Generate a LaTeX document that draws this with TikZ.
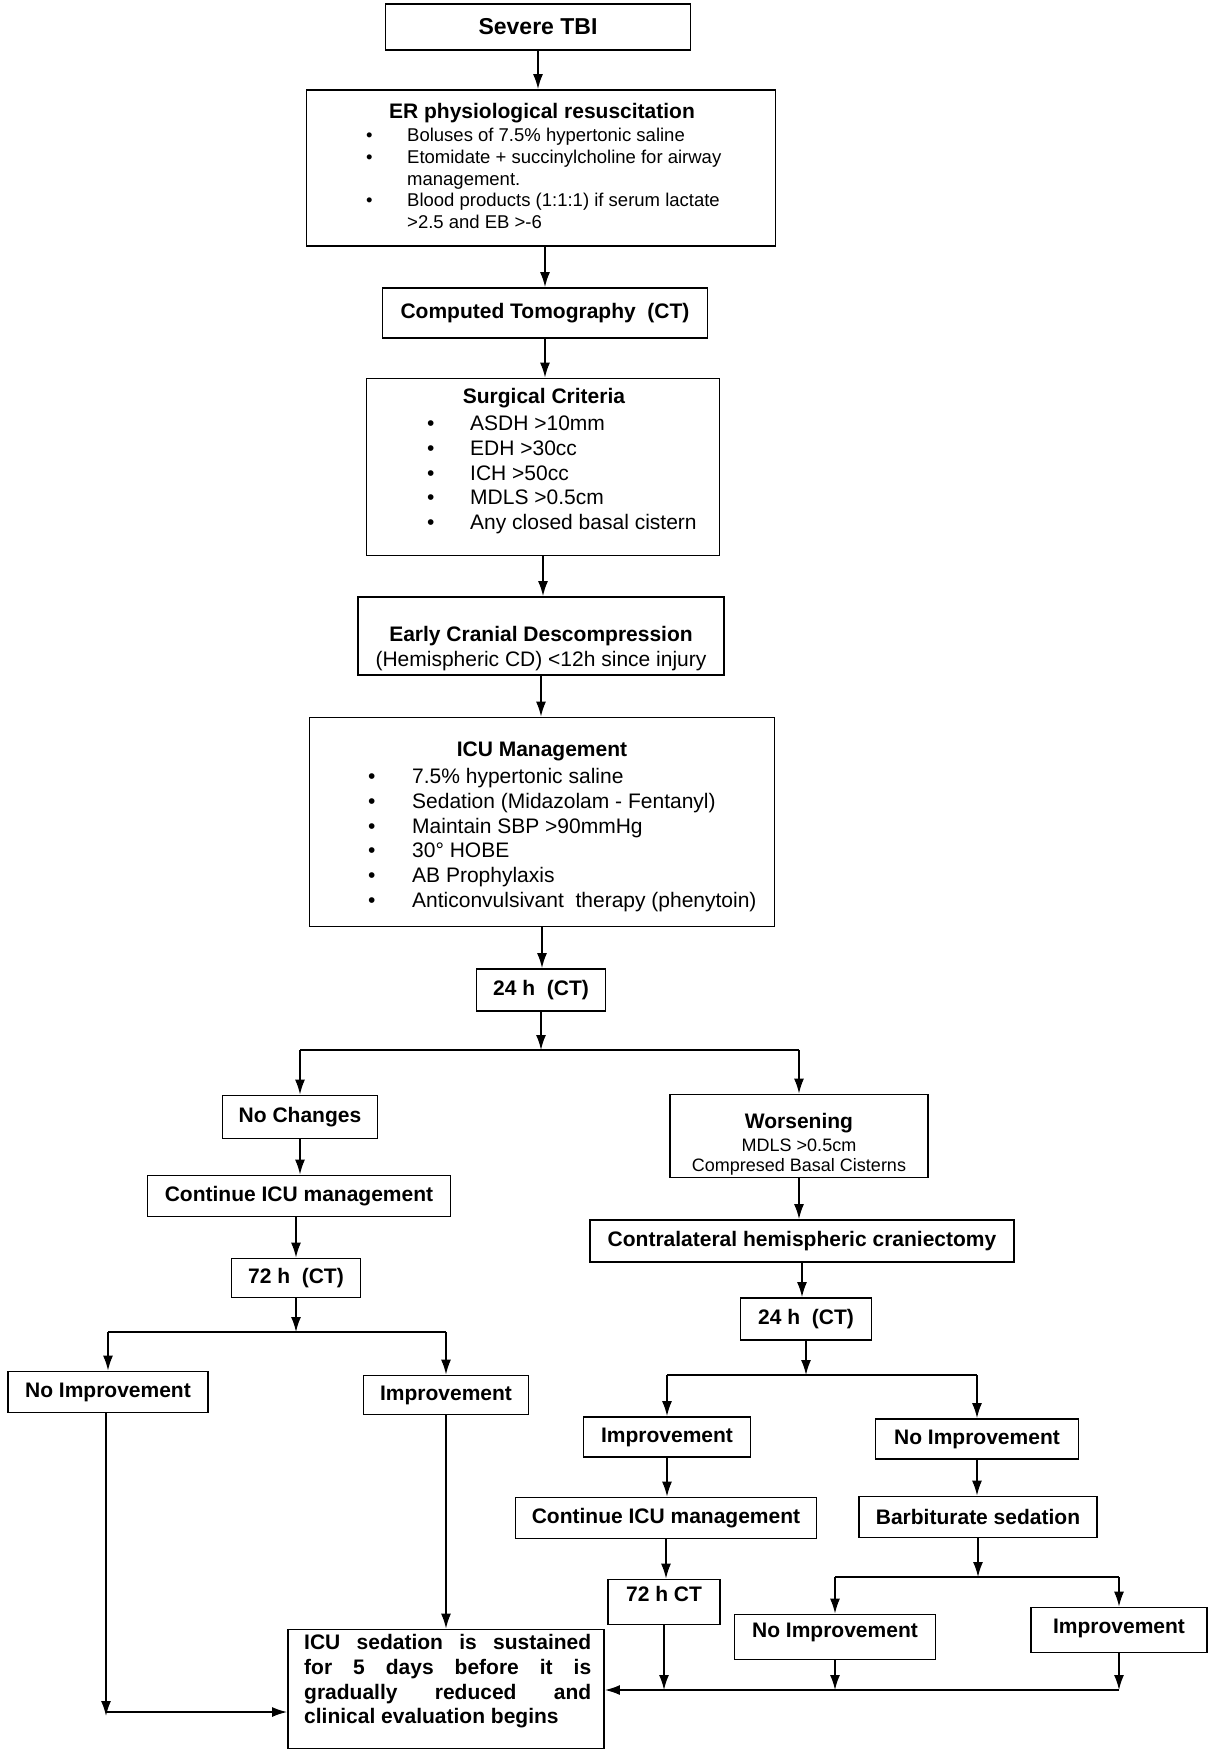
\documentclass[tikz,border=0pt]{standalone}
\usepackage{fontspec}
\setmainfont{Liberation Sans}
\usetikzlibrary{arrows.meta}
\tikzset{
  box/.style={draw, line width=1.8pt, inner sep=0pt, align=center},
  conn/.style={line width=1.6pt, -{Latex[length=15pt,width=10pt]}},
  ln/.style={line width=1.6pt},
  lbl/.style={font=\bfseries\fontsize{21}{25}\selectfont},
  reg/.style={font=\fontsize{21}{25}\selectfont},
  small/.style={font=\fontsize{18}{21}\selectfont},
  txt/.style={inner sep=0pt},
}
\begin{document}
\begin{tikzpicture}[x=1pt,y=-1pt]
\useasboundingbox (0,0) rectangle (1209,1757);

% ---------- main column ----------
\node[box,font=\bfseries\fontsize{23}{27}\selectfont,minimum width=305pt,minimum height=46pt] (sev) at (538,27) {Severe TBI};

\node[box,minimum width=469pt,minimum height=156pt] (er) at (541,168) {};
\node[txt,lbl,anchor=base] (erT) at (542,118.5) {ER physiological resuscitation};
\node[txt,anchor=base west] (erL) at (366,141.5) {\fontsize{18.5}{21.8}\selectfont\begin{tabular}[t]{@{}p{41pt}@{}l@{}}
\textbullet & Boluses of 7.5\% hypertonic saline\\
\textbullet & Etomidate + succinylcholine for airway\\
 & management.\\
\textbullet & Blood products (1:1:1) if serum lactate\\
 & >2.5 and EB >-6
\end{tabular}};

\node[box,lbl,minimum width=325pt,minimum height=50pt] (ct) at (545,313) {Computed Tomography\ \ (CT)};

\node[box,minimum width=353pt,minimum height=177pt] (surg) at (543,467) {};
\node[txt,lbl,anchor=base] (surgT) at (544,403.5) {Surgical Criteria};
\node[txt,anchor=base west] (surgL) at (427,430.5) {\fontsize{21}{24.75}\selectfont\begin{tabular}[t]{@{}p{43pt}@{}l@{}}
\textbullet & ASDH >10mm\\
\textbullet & EDH >30cc\\
\textbullet & ICH >50cc\\
\textbullet & MDLS >0.5cm\\
\textbullet & Any closed basal cistern
\end{tabular}};

\node[box,minimum width=366pt,minimum height=78pt] (early) at (541,636) {};
\node[txt,lbl,anchor=base] (earlyT) at (541,641.5) {Early Cranial Descompression};
\node[txt,reg,anchor=base] (earlyS) at (541,666.5) {(Hemispheric CD) <12h since injury};

\node[box,minimum width=465pt,minimum height=209pt] (icu) at (542,822) {};
\node[txt,lbl,anchor=base] (icuT) at (542,756.5) {ICU Management};
\node[txt,anchor=base west] (icuL) at (368,783.5) {\fontsize{21}{24.8}\selectfont\begin{tabular}[t]{@{}p{44pt}@{}l@{}}
\textbullet & 7.5\% hypertonic saline\\
\textbullet & Sedation (Midazolam - Fentanyl)\\
\textbullet & Maintain SBP >90mmHg\\
\textbullet & 30° HOBE\\
\textbullet & AB Prophylaxis\\
\textbullet & Anticonvulsivant\ \ therapy (phenytoin)
\end{tabular}};

\node[box,lbl,minimum width=129pt,minimum height=42pt] (h24) at (541,990) {24 h\ \ (CT)};

% ---------- left branch ----------
\node[box,lbl,minimum width=155pt,minimum height=43pt] (nochg) at (300,1117) {No Changes};
\node[box,lbl,minimum width=303pt,minimum height=41pt] (contL) at (299,1196) {Continue ICU management};
\node[box,lbl,minimum width=129pt,minimum height=39pt] (h72) at (296,1278) {72 h\ \ (CT)};
\node[box,lbl,minimum width=200pt,minimum height=41pt] (noimpL) at (108,1392) {No Improvement};
\node[box,lbl,minimum width=165pt,minimum height=39pt] (impL) at (446,1395) {Improvement};

\node[box,minimum width=316pt,minimum height=119pt] (sed) at (446,1689) {};
\node[txt,anchor=base west] (sedT) at (304,1649.6) {\bfseries\fontsize{21}{24.7}\selectfont\begin{tabular}[t]{@{}l@{}}
\makebox[287pt][s]{ICU sedation is sustained}\\
\makebox[287pt][s]{for 5 days before it is}\\
\makebox[287pt][s]{gradually reduced and}\\
clinical evaluation begins
\end{tabular}};

% ---------- right branch ----------
\node[box,minimum width=258pt,minimum height=83pt] (wors) at (799,1136) {};
\node[txt,lbl,anchor=base] (worsT) at (799,1128.5) {Worsening};
\node[txt,small,anchor=base] (worsA) at (799,1151.5) {MDLS >0.5cm};
\node[txt,small,anchor=base] (worsB) at (799,1171.5) {Compresed Basal Cisterns};

\node[box,lbl,minimum width=424pt,minimum height=42pt] (contra) at (802,1241) {Contralateral hemispheric craniectomy};
\node[box,lbl,minimum width=131pt,minimum height=42pt] (h24R) at (806,1319) {24 h\ \ (CT)};
\node[box,lbl,minimum width=167pt,minimum height=40pt] (impR) at (667,1437) {Improvement};
\node[box,lbl,minimum width=203pt,minimum height=40pt] (noimpR) at (977,1439) {No Improvement};
\node[box,lbl,minimum width=301pt,minimum height=41pt] (contR) at (666,1518) {Continue ICU management};
\node[box,lbl,minimum width=238pt,minimum height=41pt] (barb) at (978,1517) {Barbiturate sedation};

\node[box,minimum width=112pt,minimum height=45pt] (h72R) at (664,1602) {};
\node[txt,lbl,anchor=base] (h72RT) at (664,1601.5) {72 h CT};
\node[box,minimum width=201pt,minimum height=45pt] (noimpR2) at (835,1637) {};
\node[txt,lbl,anchor=base] (noimpR2T) at (835,1637.5) {No Improvement};
\node[box,minimum width=176pt,minimum height=45pt] (impR2) at (1119,1630) {};
\node[txt,lbl,anchor=base] (impR2T) at (1119,1633.5) {Improvement};

% ---------- junction coordinates ----------
\coordinate (j1) at (541,1050);
\coordinate (j2) at (296,1332);
\coordinate (j3) at (806,1375);
\coordinate (j4) at (978,1577);
\coordinate (j5) at (1119,1690);
\coordinate (j6) at (106,1712);

% ---------- connectors ----------
\draw[conn] (sev.south) -- (sev.south |- er.north);
\draw[conn] (ct.north |- er.south) -- (ct.north);
\draw[conn] (ct.south) -- (ct.south |- surg.north);
\draw[conn] (surg.south) -- (surg.south |- early.north);
\draw[conn] (early.south) -- (early.south |- icu.north);
\draw[conn] (icu.south) -- (icu.south |- h24.north);
\draw[conn] (h24.south) -- (h24.south |- j1);
\draw[ln] (nochg.north |- j1) -- (wors.north |- j1);
\draw[conn] (nochg.north |- j1) -- (nochg.north);
\draw[conn] (wors.north |- j1) -- (wors.north);

\draw[conn] (nochg.south) -- (nochg.south |- contL.north);
\draw[conn] (h72.north |- contL.south) -- (h72.north);
\draw[conn] (h72.south) -- (h72.south |- j2);
\draw[ln] (noimpL.north |- j2) -- (impL.north |- j2);
\draw[conn] (noimpL.north |- j2) -- (noimpL.north);
\draw[conn] (impL.north |- j2) -- (impL.north);
\draw[conn] (impL.south) -- (impL.south |- sed.north);
\draw[conn] (noimpL.south -| j6) -- ([yshift=-4pt]j6);
\draw[conn] (j6) -- (sed.west |- j6);

\draw[conn] (wors.south) -- (wors.south |- contra.north);
\draw[conn] (contra.south) -- (contra.south |- h24R.north);
\draw[conn] (h24R.south) -- (h24R.south |- j3);
\draw[ln] (impR.north |- j3) -- (noimpR.north |- j3);
\draw[conn] (impR.north |- j3) -- (impR.north);
\draw[conn] (noimpR.north |- j3) -- (noimpR.north);
\draw[conn] (impR.south) -- (impR.south |- contR.north);
\draw[conn] (noimpR.south) -- (noimpR.south |- barb.north);
\draw[conn] (contR.south) -- (contR.south |- h72R.north);
\draw[conn] (barb.south) -- (barb.south |- j4);
\draw[ln] (noimpR2.north |- j4) -- (impR2.north |- j4);
\draw[conn] (noimpR2.north |- j4) -- (noimpR2.north);
\draw[conn] (impR2.north |- j4) -- (impR2.north);
\draw[conn] (h72R.south) -- (h72R.south |- j5);
\draw[conn] (noimpR2.south) -- (noimpR2.south |- j5);
\draw[conn] (impR2.south) -- (j5);
\draw[conn] (j5) -- (sed.east |- j5);
\end{tikzpicture}
\end{document}
